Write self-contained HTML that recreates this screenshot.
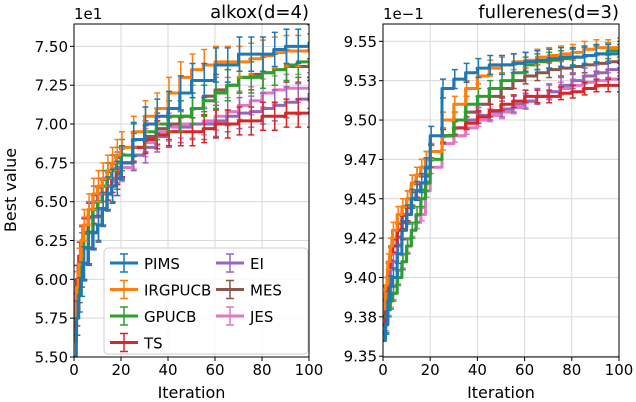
<!DOCTYPE html>
<html><head><meta charset="utf-8"><style>
html,body{margin:0;padding:0;background:#fff;}
svg{display:block;font-family:"DejaVu Sans","Liberation Sans",sans-serif;}
</style></head><body>
<svg id="chart" width="636" height="402" viewBox="0 0 636 402" xmlns="http://www.w3.org/2000/svg"></svg>
<script>
const iters = [0,1,2,3,4,6,8,10,12,14,16,18,20,25,30,35,40,45,50,55,60,65,70,75,80,85,90,95,100];
const seriesNames = ["PIMS","IRGPUCB","GPUCB","TS","EI","MES","JES"];
const colors = ["#1f77b4","#ff7f0e","#2ca02c","#d62728","#9467bd","#8c564b","#e377c2"];
// left panel (alkox, units 1e1)
const alkPIMS = [5.5,5.75,5.9,6.0,6.1,6.2,6.3,6.35,6.45,6.55,6.6,6.65,6.75,6.9,7.0,7.05,7.1,7.2,7.28,7.28,7.38,7.38,7.45,7.45,7.45,7.48,7.5,7.5,7.53];
const alkIRGPUCB = [5.6,5.95,6.1,6.25,6.35,6.45,6.55,6.6,6.65,6.7,6.75,6.8,6.85,6.95,7.05,7.1,7.2,7.3,7.35,7.38,7.4,7.4,7.4,7.42,7.44,7.46,7.47,7.47,7.48];
const alkGPUCB = [5.6,5.85,6.0,6.1,6.2,6.3,6.45,6.5,6.6,6.65,6.7,6.75,6.8,6.9,6.95,7.0,7.05,7.05,7.1,7.15,7.2,7.25,7.3,7.3,7.33,7.35,7.38,7.4,7.4];
const alkTS = [5.7,6.0,6.15,6.25,6.3,6.4,6.45,6.5,6.55,6.6,6.65,6.7,6.75,6.85,6.9,6.93,6.95,6.95,6.95,6.97,7.0,7.0,7.02,7.02,7.05,7.05,7.07,7.07,7.07];
const alkEI = [5.6,5.95,6.1,6.2,6.3,6.4,6.5,6.55,6.6,6.65,6.7,6.72,6.75,6.8,6.85,6.92,6.95,6.98,7.0,7.0,7.02,7.05,7.07,7.08,7.1,7.12,7.14,7.16,7.2];
const alkMES = [5.6,5.8,5.95,6.05,6.1,6.2,6.3,6.35,6.45,6.55,6.6,6.68,6.75,6.85,6.92,6.97,7.0,7.05,7.1,7.18,7.22,7.25,7.3,7.32,7.33,7.35,7.37,7.37,7.38];
const alkJES = [5.6,5.9,6.0,6.1,6.2,6.3,6.4,6.5,6.55,6.6,6.63,6.67,6.72,6.8,6.88,6.95,6.98,7.0,7.0,7.02,7.05,7.08,7.12,7.15,7.2,7.22,7.23,7.23,7.24];
const alkErr = [0.11,0.1,0.1,0.09,0.1,0.1,0.09];
const alkTicks = [5.5,5.75,6.0,6.25,6.5,6.75,7.0,7.25,7.5];
const alkTickLabels = ["5.50","5.75","6.00","6.25","6.50","6.75","7.00","7.25","7.50"];
// right panel (fullerenes, units 1e-1)
const fulPIMS = [9.36,9.37,9.385,9.395,9.40,9.415,9.43,9.44,9.45,9.455,9.46,9.47,9.49,9.52,9.526,9.53,9.533,9.535,9.535,9.536,9.537,9.538,9.539,9.54,9.54,9.541,9.542,9.542,9.542];
const fulIRGPUCB = [9.38,9.395,9.41,9.42,9.43,9.44,9.445,9.45,9.46,9.465,9.47,9.475,9.48,9.50,9.51,9.52,9.528,9.533,9.535,9.537,9.538,9.54,9.541,9.542,9.543,9.545,9.546,9.546,9.547];
const fulGPUCB = [9.36,9.37,9.38,9.385,9.39,9.40,9.41,9.42,9.43,9.44,9.45,9.46,9.475,9.49,9.50,9.51,9.515,9.52,9.525,9.53,9.535,9.537,9.538,9.539,9.54,9.541,9.542,9.544,9.545];
const fulTS = [9.37,9.39,9.405,9.415,9.42,9.43,9.435,9.44,9.45,9.455,9.46,9.465,9.48,9.49,9.495,9.498,9.502,9.506,9.51,9.512,9.515,9.515,9.515,9.517,9.518,9.52,9.522,9.522,9.522];
const fulEI = [9.36,9.38,9.395,9.405,9.41,9.42,9.43,9.44,9.45,9.455,9.46,9.47,9.48,9.49,9.495,9.5,9.503,9.505,9.507,9.51,9.512,9.515,9.518,9.522,9.525,9.528,9.53,9.532,9.533];
const fulMES = [9.37,9.39,9.405,9.415,9.42,9.43,9.44,9.45,9.46,9.465,9.47,9.475,9.48,9.49,9.50,9.505,9.51,9.515,9.52,9.525,9.528,9.53,9.532,9.533,9.534,9.535,9.536,9.537,9.538];
const fulJES = [9.36,9.37,9.38,9.385,9.39,9.40,9.41,9.42,9.43,9.435,9.44,9.455,9.47,9.485,9.49,9.495,9.50,9.503,9.505,9.508,9.512,9.515,9.518,9.52,9.522,9.524,9.525,9.526,9.526];
const fulErr = [0.006,0.005,0.005,0.004,0.005,0.005,0.004];
const fulTicks = [9.35,9.375,9.4,9.425,9.45,9.475,9.5,9.525,9.55];
const fulTickLabels = ["9.35","9.38","9.40","9.42","9.45","9.47","9.50","9.53","9.55"];
const xTicks = [0,20,40,60,80,100];

const NS = "http://www.w3.org/2000/svg";
const svg = document.getElementById("chart");
function mk(tag, attrs, parent){const e=document.createElementNS(NS,tag);for(const k in attrs)e.setAttribute(k,attrs[k]);(parent||svg).appendChild(e);return e;}

function panel(cfg){
  const g = mk("g",{});
  
  
  const L=cfg.x0,R=cfg.x1,T=24,B=357;
  const sx=v=>L+(v-0)/(100-0)*(R-L);
  const sy=v=>B-(v-cfg.ymin)/(cfg.ymax-cfg.ymin)*(B-T);
  xTicks.forEach(t=>{
    const l=mk("line",{x1:sx(t),x2:sx(t),y1:T,y2:B,stroke:"#d9d9d9","stroke-width":1},g);
    
    
    mk("line",{x1:sx(t),x2:sx(t),y1:B,y2:B+4,stroke:"#000","stroke-width":1},g);
    const tx=mk("text",{x:sx(t),y:B+18,"text-anchor":"middle","font-size":15,fill:"#000"},g);
    tx.textContent=t;
    
    
  });
  cfg.ticks.forEach((t,i)=>{
    const l=mk("line",{x1:L,x2:R,y1:sy(t),y2:sy(t),stroke:"#d9d9d9","stroke-width":1},g);
    
    
    mk("line",{x1:L-4,x2:L,y1:sy(t),y2:sy(t),stroke:"#000","stroke-width":1},g);
    const tx=mk("text",{x:L-6,y:sy(t)+5.5,"text-anchor":"end","font-size":15,fill:"#000"},g);
    tx.textContent=cfg.tickLabels[i];
    
    
  });
  const clipId="clip"+cfg.name;
  const cp=mk("clipPath",{id:clipId},g);
  mk("rect",{x:L,y:T,width:R-L,height:B-T},cp);
  const sg=mk("g",{"clip-path":"url(#"+clipId+")"},g);
  for(let s=cfg.data.length-1;s>=0;s--){
    const d=cfg.data[s], c=colors[s], e=cfg.err[s];
    const eg=mk("g",{},sg);
    
    
    let p="";
    d.forEach((v,i)=>{
      const x=sx(iters[i]),y=sy(v);
      if(i===0)p+="M"+x+","+y;else p+="H"+x+"V"+y;
    });
    p+="H"+sx(100);
    d.forEach((v,i)=>{
      if(i===0)return;
      const x=sx(iters[i])+1, y1=sy(v-e), y2=sy(v+e);
      const eb=mk("path",{d:"M"+x+","+y1+"V"+y2+"M"+(x-3)+","+y1+"H"+(x+3)+"M"+(x-3)+","+y2+"H"+(x+3),stroke:c,"stroke-width":1.5,fill:"none"},eg);
      
      
    });
    const ln=mk("path",{d:p,stroke:c,"stroke-width":3,fill:"none","stroke-linejoin":"round"},eg);
    
    
  }
  const fr=mk("rect",{x:L,y:T,width:R-L,height:B-T,fill:"none",stroke:"#000","stroke-width":1},g);
  
  
  const off=mk("text",{x:L,y:T-5,"font-size":15,fill:"#000"},g);
  off.textContent=cfg.offset;
  
  
  const ti=mk("text",{x:R,y:T-6,"text-anchor":"end","font-size":18,fill:"#000"},g);
  ti.textContent=cfg.title;
  
  
  const xl=mk("text",{x:(L+R)/2,y:398,"text-anchor":"middle","font-size":16,fill:"#000"},g);
  xl.textContent="Iteration";
  
  
}
panel({name:"alkox-panel",x0:74,x1:309,ymin:5.5,ymax:7.644,ticks:alkTicks,tickLabels:alkTickLabels,err:alkErr,offset:"1e1",title:"alkox(d=4)",
  data:[alkPIMS,alkIRGPUCB,alkGPUCB,alkTS,alkEI,alkMES,alkJES]});
panel({name:"fullerenes-panel",x0:383,x1:619,ymin:9.3495,ymax:9.561,ticks:fulTicks,tickLabels:fulTickLabels,err:fulErr,offset:"1e\u22121",title:"fullerenes(d=3)",
  data:[fulPIMS,fulIRGPUCB,fulGPUCB,fulTS,fulEI,fulMES,fulJES]});

const yl=mk("text",{x:0,y:0,"text-anchor":"middle","font-size":16,fill:"#000",transform:"translate(16,190) rotate(-90)"});
yl.textContent="Best value";



const lg=mk("g",{});


mk("rect",{x:104,y:248,width:204,height:106,rx:4,fill:"rgba(255,255,255,0.85)",stroke:"#ccc","stroke-width":1},lg);
seriesNames.forEach((n,i)=>{
  const col=i<4?0:1,row=i<4?i:i-4;
  const x=110+col*106,y=263+row*26.5;
  const en=mk("g",{},lg);
  
  
  mk("line",{x1:x,x2:x+28,y1:y,y2:y,stroke:colors[i],"stroke-width":3},en);
  mk("path",{d:"M"+(x+14)+","+(y-9)+"V"+(y+9)+"M"+(x+10)+","+(y-9)+"H"+(x+18)+"M"+(x+10)+","+(y+9)+"H"+(x+18),stroke:colors[i],"stroke-width":1.5,fill:"none"},en);
  const t=mk("text",{x:x+34,y:y+6,"font-size":15,fill:"#000"},en);
  t.textContent=n;
});
</script>
</body></html>
